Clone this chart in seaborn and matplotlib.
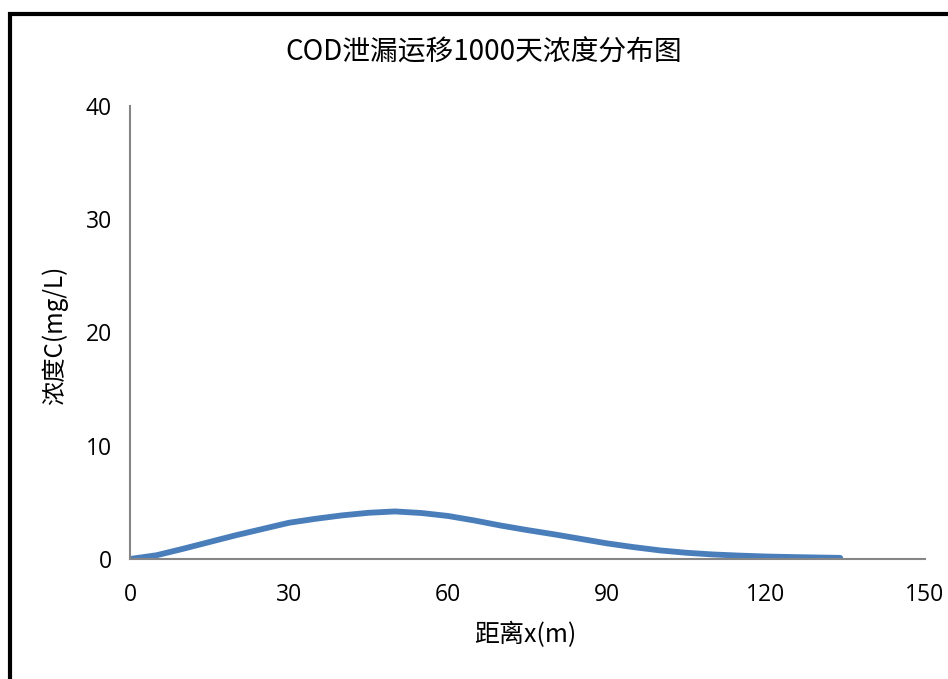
import matplotlib
matplotlib.use('Agg')
from matplotlib import pyplot as plt
from matplotlib.patches import Rectangle
import pandas as pd
import seaborn as sns

# distance (m) and concentration (mg/L)
distance = [0, 5, 10, 15, 20, 25, 30, 35, 40, 45, 50, 55, 60, 65, 70,
            75, 80, 85, 90, 95, 100, 105, 110, 115, 120, 125, 130, 134]
conc = [0, 0.33, 0.9, 1.5, 2.1, 2.65, 3.2, 3.55, 3.85, 4.08, 4.2, 4.06, 3.8,
        3.4, 2.95, 2.55, 2.18, 1.78, 1.38, 1.05, 0.76, 0.55, 0.4, 0.3, 0.22,
        0.17, 0.13, 0.1]
x_ticks = [0, 30, 60, 90, 120, 150]
y_ticks = [0, 10, 20, 30, 40]

df = pd.DataFrame({'x': distance, 'C': conc})

sns.set_style("white")
plt.rcParams['font.family'] = ['Noto Sans CJK SC', 'DejaVu Sans']
plt.rcParams['text.color'] = 'black'

fig = plt.figure(figsize=(9.48, 6.79), dpi=100)
ax = fig.add_axes([130 / 948, 1 - 559 / 679, 795 / 948, 453 / 679])

sns.lineplot(data=df, x='x', y='C', ax=ax, color='#4a7ebb', linewidth=4.2)

ax.set_xlim(0, 150)
ax.set_ylim(0, 40)
ax.set_xticks(x_ticks)
ax.set_yticks(y_ticks)
ax.tick_params(direction='in', length=7, width=1.2, color='#868686',
               labelsize=16.5, labelcolor='black')
ax.tick_params(axis='x', pad=17)
ax.tick_params(axis='y', pad=13)
for lab in ax.get_xticklabels() + ax.get_yticklabels():
    lab.set_family(['Open Sans', 'DejaVu Sans'])

for s in ['top', 'right']:
    ax.spines[s].set_visible(False)
for s in ['left', 'bottom']:
    ax.spines[s].set_color('#868686')
    ax.spines[s].set_linewidth(1.5)

ax.set_xlabel('距离x(m)', fontsize=18, color='black')
ax.set_ylabel('浓度C(mg/L)', fontsize=17.5, color='black')
ax.xaxis.set_label_coords(0.497, -0.168)
ax.xaxis.label.set_va('center')
ax.yaxis.set_label_coords(-0.094, 0.494)
ax.yaxis.label.set_va('center')

fig.text(484 / 948, 1 - 53 / 679, 'COD泄漏运移1000天浓度分布图', fontsize=20,
         ha='center', va='center', color='black')

# outer chart frame (right and bottom edges run off the image)
fig.patches.append(Rectangle((10.3 / 948, -0.1), 1.0, 1 - 14 / 679 + 0.1,
                             transform=fig.transFigure, fill=False,
                             edgecolor='black', linewidth=3))

fig.savefig('out.png', dpi=100)
